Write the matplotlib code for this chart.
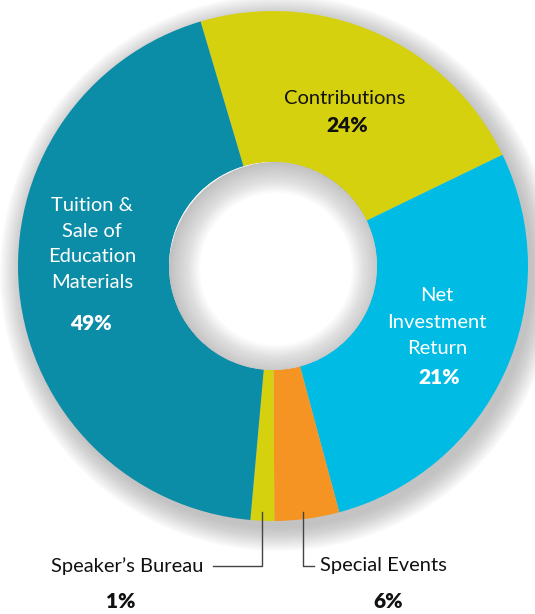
import numpy as np
import matplotlib
matplotlib.use("Agg")
import matplotlib.pyplot as plt
from matplotlib.patches import Circle, Wedge

plt.rcParams['font.family'] = ['Lato', 'DejaVu Sans']

# slices, clockwise from the top (shares as drawn in the picture)
names = ["Contributions", "Net Investment Return", "Special Events",
         "Speaker's Bureau", "Tuition & Sale of Education Materials"]
shares = [22.4, 28.0, 4.1, 1.5, 44.0]
pct_labels = ["24%", "21%", "6%", "1%", "49%"]
colors = ["#d5d10f", "#00bce4", "#f59422", "#d5d10f", "#0b8ca7"]

W, H = 535, 614
cx, cy = 273, H - 266
R, r_hole = 255, 104

fig = plt.figure(figsize=(W / 100, H / 100), dpi=100)
ax = fig.add_axes([0, 0, 1, 1])

# soft shadow behind the ring, falling down and to the right
for i in range(22):
    ax.add_patch(Circle((cx + 5, cy - 7), R + 1.1 * i, color='#8c8c8c',
                        alpha=0.026, lw=0, zorder=0))

wedges, _ = ax.pie(shares, colors=colors, startangle=106.5, counterclock=False,
                   center=(cx, cy), radius=R, frame=True,
                   wedgeprops=dict(width=R - r_hole, linewidth=0))
for w in wedges:
    w.set_zorder(2)
hole = Circle((cx, cy), r_hole, color='white', lw=0, zorder=2.5)
ax.add_patch(hole)

# soft inner shading of the hole, darker at the upper left
for i in range(26):
    ring = Wedge((cx + 3, cy - 3), r_hole + 3, 0, 360, width=1.2 * (i + 1),
                 color='#7a7a7a', alpha=0.018, lw=0, zorder=3)
    ax.add_patch(ring)
    ring.set_clip_path(hole)

ax.set_xlim(0, W)
ax.set_ylim(0, H)
ax.set_aspect('equal')
ax.axis('off')


def py(y):
    return H - y


txt = dict(ha='center', va='center', fontsize=14.5, zorder=5)
bold = dict(ha='center', va='center', fontsize=15, fontweight='heavy', zorder=5)

ax.text(345, py(98), "Contributions", color='#111111', **txt)
ax.text(347, py(126), pct_labels[0], color='#111111', **bold)

ax.text(437, py(322), "Net\nInvestment\nReturn", color='white',
        linespacing=1.65, **txt)
ax.text(439, py(377), pct_labels[1], color='white', **bold)

ax.text(92, py(244), "Tuition &\nSale of\nEducation\nMaterials", color='white',
        linespacing=1.62, **txt)
ax.text(91, py(323), pct_labels[4], color='white', **bold)


# leader lines for the two small slices
def mid_x(w):
    a = np.deg2rad((w.theta1 + w.theta2) / 2)
    return cx + R * np.cos(a)


y_top, y_line = py(512), py(566)
xs = mid_x(wedges[3])
ax.plot([xs, xs, 213], [y_top, y_line, y_line], color='#444444', lw=1, zorder=4)
ax.text(203, y_line, "Speaker\u2019s Bureau", ha='right', va='center',
        fontsize=14.5, color='#111111')
ax.text(121, py(601), pct_labels[3], ha='center', va='center', fontsize=15,
        fontweight='heavy', color='#111111')

xe = mid_x(wedges[2]) - 4
ax.plot([xe, xe, 314], [y_top, y_line, y_line], color='#444444', lw=1, zorder=4)
ax.text(320, y_line, "Special Events", ha='left', va='center',
        fontsize=14.5, color='#111111')
ax.text(388, py(601), pct_labels[2], ha='center', va='center', fontsize=15,
        fontweight='heavy', color='#111111')

fig.savefig("out.png", dpi=100)
